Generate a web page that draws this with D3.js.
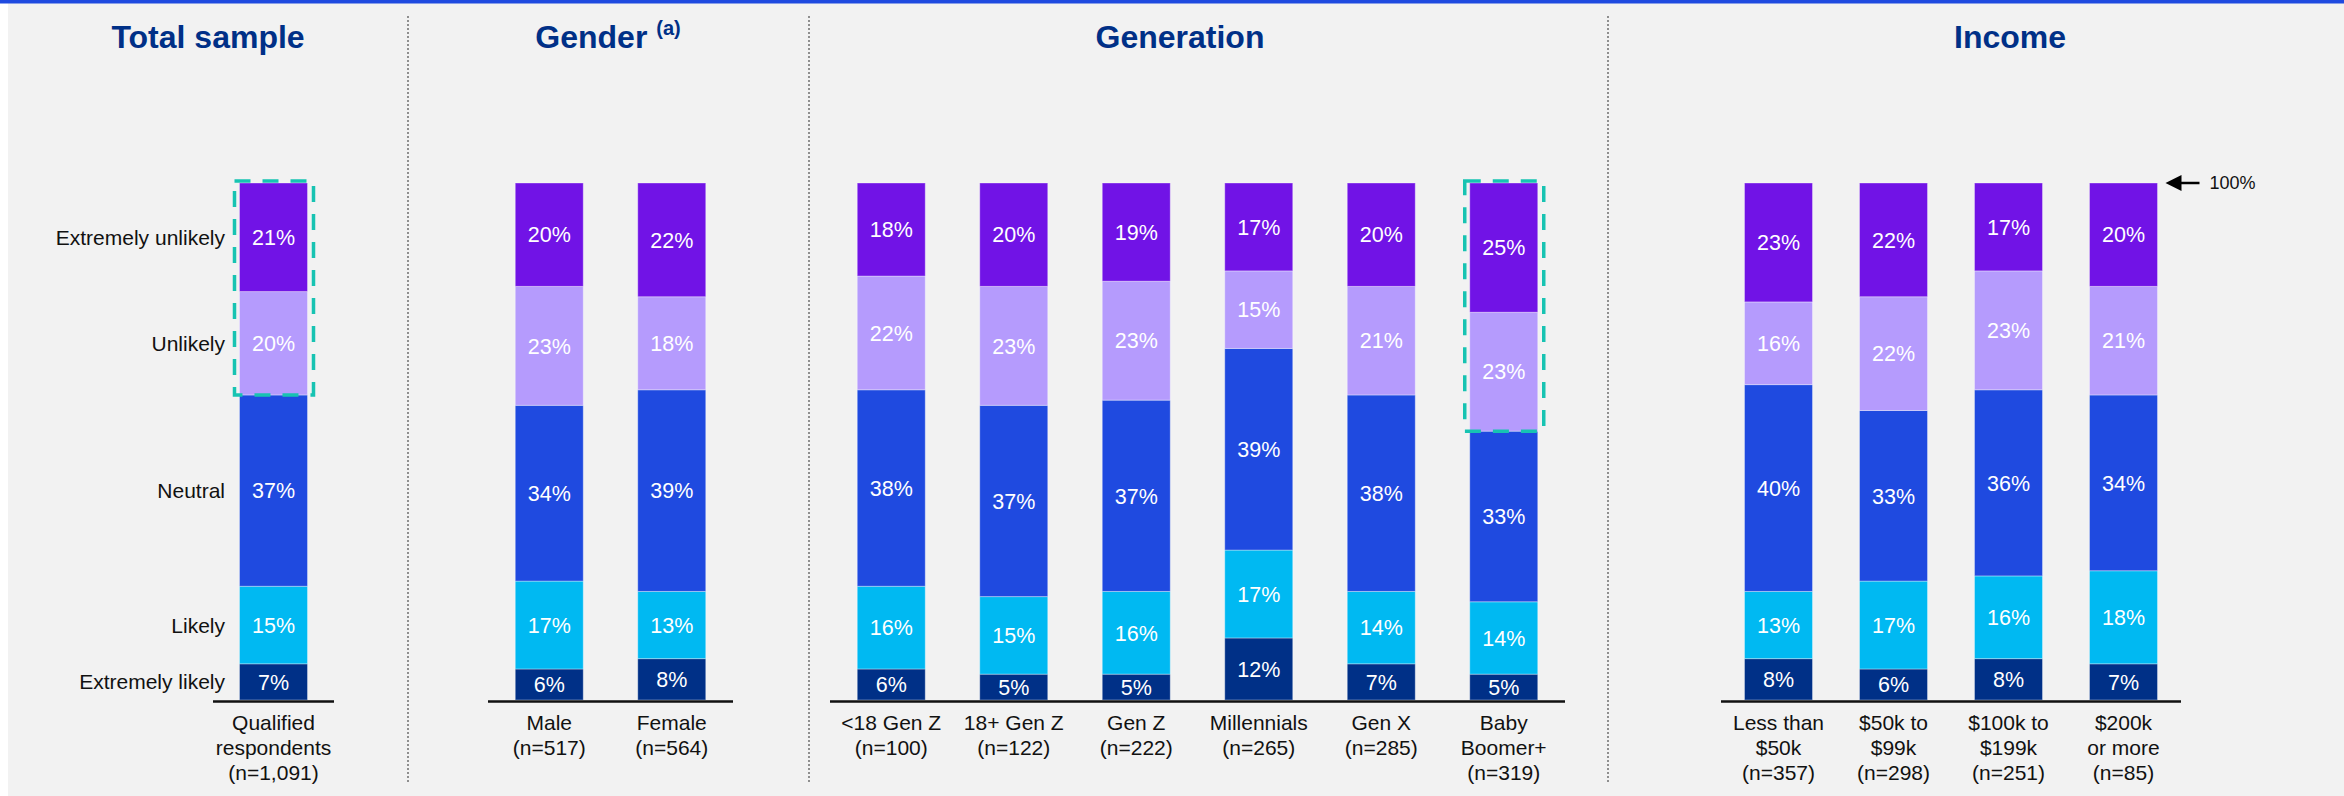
<!DOCTYPE html>
<meta charset="utf-8">
<script src="https://d3js.org/d3.v7.min.js"></script>
<style>
  body { margin: 0; background: #ffffff; }
  text { font-family: "Liberation Sans", Arial, sans-serif; }
</style>
<div id="my_chart"></div>
<script>

// Answer levels, bottom of the stack to the top
var responses = ["Extremely likely", "Likely", "Neutral", "Unlikely", "Extremely unlikely"]
var responseColors = ["#003087", "#00b9f2", "#1f4ae0", "#b59bfd", "#7113e6"]

// Panels
var groupNames = ["Total sample", "Gender", "Generation", "Income"]

// Bars (label lines) and which panel they sit in
var barLabels = [
  ["Qualified", "respondents", "(n=1,091)"],
  ["Male", "(n=517)"], ["Female", "(n=564)"],
  ["<18 Gen Z", "(n=100)"], ["18+ Gen Z", "(n=122)"], ["Gen Z", "(n=222)"],
  ["Millennials", "(n=265)"], ["Gen X", "(n=285)"], ["Baby", "Boomer+", "(n=319)"],
  ["Less than", "$50k", "(n=357)"], ["$50k to", "$99k", "(n=298)"],
  ["$100k to", "$199k", "(n=251)"], ["$200k", "or more", "(n=85)"]
]
var barGroup = [0, 1, 1, 2, 2, 2, 2, 2, 2, 3, 3, 3, 3]

// Shares in %
var extremelyLikely   = [7, 6, 8, 6, 5, 5, 12, 7, 5, 8, 6, 8, 7]
var likely            = [15, 17, 13, 16, 15, 16, 17, 14, 14, 13, 17, 16, 18]
var neutral           = [37, 34, 39, 38, 37, 37, 39, 38, 33, 40, 33, 36, 34]
var unlikely          = [20, 23, 18, 22, 23, 23, 15, 21, 23, 16, 22, 23, 21]
var extremelyUnlikely = [21, 20, 22, 18, 20, 19, 17, 20, 25, 23, 22, 17, 20]

// Bars that get the dashed call-out round their top two blocks
var highlighted = [0, 8]

var width = 2344, height = 796

var svg = d3.select("#my_chart")
  .append("svg")
    .attr("width", width)
    .attr("height", height)

svg.append("rect").attr("x", 0).attr("y", 0).attr("width", width).attr("height", height).attr("fill", "#ffffff")
svg.append("rect").attr("x", 8).attr("y", 0).attr("width", width - 8).attr("height", height).attr("fill", "#f2f2f2")
svg.append("rect").attr("x", 0).attr("y", 0).attr("width", width).attr("height", 3.5).attr("fill", "#1f4ae0")

// table for d3.stack
var table = barLabels.map(function(d, i) {
  return {
    id: i, group: barGroup[i],
    "Extremely likely": extremelyLikely[i],
    "Likely": likely[i],
    "Neutral": neutral[i],
    "Unlikely": unlikely[i],
    "Extremely unlikely": extremelyUnlikely[i]
  }
})
var series = d3.stack().keys(responses)(table)

var y = d3.scaleLinear().domain([0, 100]).range([700, 183])
var color = d3.scaleOrdinal().domain(responses).range(responseColors)

// one point scale per panel
var groupRanges = [[213, 334], [488, 733], [830, 1565], [1721, 2181]]
var xs = groupRanges.map(function(r, g) {
  return d3.scalePoint()
    .domain(table.filter(function(d) { return d.group === g }).map(function(d) { return d.id }))
    .range(r)
    .padding(0.5)
})
var barW = 68
function xc(d) { return xs[d.group](d.id) }

// panel titles
var titleX = [208, 608, 1180, 2010]
svg.selectAll(".title")
  .data(groupNames)
  .enter()
  .append("text")
    .attr("class", "title")
    .attr("x", function(d, i) { return titleX[i] })
    .attr("y", 48)
    .attr("text-anchor", "middle")
    .attr("font-size", "32px")
    .attr("font-weight", "bold")
    .attr("fill", "#003087")
    .each(function(d) {
      var t = d3.select(this)
      t.append("tspan").text(d)
      if (d === "Gender") {
        t.append("tspan").text(" ")
        t.append("tspan").text("(a)").attr("font-size", "20px").attr("dy", -13)
      }
    })

// dotted dividers
var dividers = [408, 809, 1608]
svg.selectAll(".divider")
  .data(dividers)
  .enter()
  .append("line")
    .attr("x1", function(d) { return d }).attr("x2", function(d) { return d })
    .attr("y1", 16).attr("y2", 784)
    .attr("stroke", "#6f6f6f")
    .attr("stroke-width", 1.5)
    .attr("stroke-dasharray", "2,2")

// stacked bars
var layers = svg.selectAll(".layer")
  .data(series)
  .enter()
  .append("g")
    .attr("class", "layer")
    .attr("fill", function(d) { return color(d.key) })

layers.selectAll("rect")
  .data(function(d) { return d })
  .enter()
  .append("rect")
    .attr("x", function(d) { return xc(d.data) - barW / 2 })
    .attr("y", function(d) { return y(d[1]) })
    .attr("width", barW)
    .attr("height", function(d) { return y(d[0]) - y(d[1]) })
    .attr("stroke", "#ffffff")
    .attr("stroke-opacity", 0.35)
    .attr("stroke-width", 1)

layers.selectAll("text")
  .data(function(d) { return d })
  .enter()
  .append("text")
    .attr("x", function(d) { return xc(d.data) })
    .attr("y", function(d) { return (y(d[0]) + y(d[1])) / 2 })
    .attr("dy", "0.36em")
    .attr("text-anchor", "middle")
    .attr("font-size", "21.5px")
    .attr("fill", "#ffffff")
    .text(function(d) { return (d[1] - d[0]) + "%" })

// baselines
svg.selectAll(".baseline")
  .data(groupRanges)
  .enter()
  .append("line")
    .attr("x1", function(d) { return d[0] }).attr("x2", function(d) { return d[1] })
    .attr("y1", y(0) + 1.5).attr("y2", y(0) + 1.5)
    .attr("stroke", "#111111")
    .attr("stroke-width", 2.5)

// category labels
svg.selectAll(".cat")
  .data(table)
  .enter()
  .append("text")
    .attr("class", "cat")
    .attr("text-anchor", "middle")
    .attr("font-size", "21px")
    .attr("fill", "#111111")
    .each(function(d) {
      var t = d3.select(this)
      barLabels[d.id].forEach(function(line, k) {
        t.append("tspan").attr("x", xc(d)).attr("y", 730 + k * 25).text(line)
      })
    })

// response labels on the left, against the total sample bar
svg.selectAll(".resp")
  .data(series)
  .enter()
  .append("text")
    .attr("x", 225)
    .attr("y", function(s) { return (y(s[0][0]) + y(s[0][1])) / 2 })
    .attr("dy", "0.36em")
    .attr("text-anchor", "end")
    .attr("font-size", "21px")
    .attr("fill", "#111111")
    .text(function(s) { return s.key })

// dashed call-outs
svg.selectAll(".callout")
  .data(highlighted)
  .enter()
  .append("rect")
    .attr("x", function(i) { return xc(table[i]) - barW / 2 - 5 })
    .attr("y", y(100) - 2)
    .attr("width", barW + 11)
    .attr("height", function(i) { return y(100 - extremelyUnlikely[i] - unlikely[i]) - y(100) + 2 })
    .attr("fill", "none")
    .attr("stroke", "#17c3b2")
    .attr("stroke-width", 3.5)
    .attr("stroke-dasharray", "16,12")

// 100% marker
var lastX = xs[3](12) + barW / 2
svg.append("line")
  .attr("x1", lastX + 14).attr("x2", lastX + 42)
  .attr("y1", y(100)).attr("y2", y(100))
  .attr("stroke", "#000").attr("stroke-width", 2.5)
svg.append("path")
  .attr("d", "M" + (lastX + 8) + "," + y(100) + " l16,-8 l0,16 z")
  .attr("fill", "#000")
svg.append("text")
  .attr("x", lastX + 52)
  .attr("y", y(100))
  .attr("dy", "0.36em")
  .attr("font-size", "18px")
  .attr("fill", "#111111")
  .text("100%")

</script>
